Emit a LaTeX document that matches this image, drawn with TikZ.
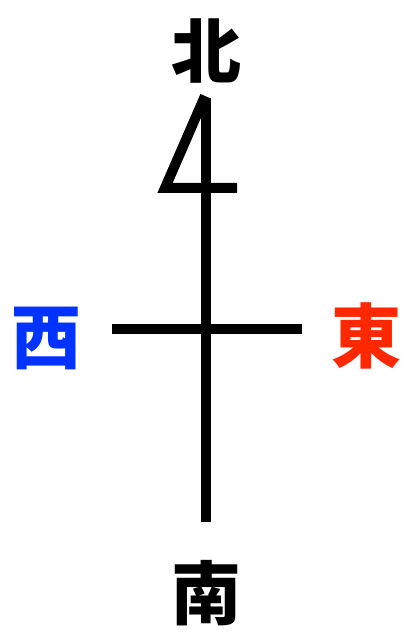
\documentclass[tikz,border=0pt]{standalone}
\usepackage{fontspec}
\newfontfamily\cjk{Noto Sans CJK JP}
\definecolor{westblue}{RGB}{0,51,255}
\definecolor{eastred}{RGB}{255,40,0}
\begin{document}
\begin{tikzpicture}[
  x=1pt, y=-1pt,
  dirlabel/.style={font=\cjk\bfseries\fontsize{70}{70}\selectfont, inner sep=0pt},
  stroke/.style={line width=10pt, black},
]
  \useasboundingbox (0,0) rectangle (409,636);

  % compass labels
  \node[dirlabel] (north) at (206, 51) {北};
  \node[dirlabel] (south) at (206, 593) {南};
  \node[dirlabel, westblue] (west) at (47, 338) {西};
  \node[dirlabel, eastred] (east) at (366, 336) {東};

  \coordinate (top) at (206, 98);
  \coordinate (bottom) at (206, 522);
  \coordinate (bend) at (165, 188);
  \coordinate (barend) at (237, 188);
  \coordinate (left) at (112, 329);
  \coordinate (right) at (302, 329);

  % the needle
  \draw[stroke] (top) -- (bottom);
  \draw[stroke, line join=miter] ([xshift=-1pt, yshift=2pt]top) -- (bend) -- (barend);
  \draw[stroke] (left) -- (right);
\end{tikzpicture}
\end{document}
